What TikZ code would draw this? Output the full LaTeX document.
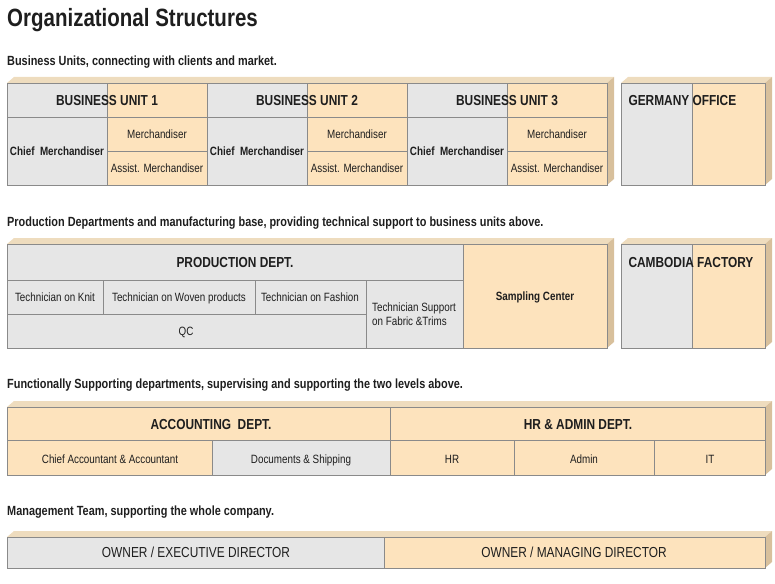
\documentclass[tikz,border=0pt]{standalone}
\usepackage{fontspec}
\setmainfont{Liberation Sans}[FakeStretch=0.82]
\usetikzlibrary{calc}
\definecolor{cellgray}{HTML}{E6E6E6}
\definecolor{cellpeach}{HTML}{FDE3BD}
\definecolor{cellline}{HTML}{8A8A8A}
\definecolor{sidetan}{HTML}{D8C09C}
\definecolor{toptan}{HTML}{EEDCBE}
\definecolor{inktext}{HTML}{1E1E1E}
\def\drawgray{\filldraw[fill=cellgray, draw=cellline, line width=0.8pt]}
\def\drawpeach{\filldraw[fill=cellpeach, draw=cellline, line width=0.8pt]}
% top and right face of a block: x1,y1,x2,y2
\newcommand{\slab}[4]{%
  \fill[toptan] (#1,#2) -- ({#1+7},{#2-6}) -- ({#3+7},{#2-6}) -- (#3,#2) -- cycle;
  \fill[sidetan] (#3,#2) -- ({#3+7},{#2-6}) -- ({#3+7},{#4-6}) -- (#3,#4) -- cycle;}
\tikzset{
  head/.style={font=\fontsize{14.5}{16}\selectfont\bfseries, text=inktext, text height=0.72em, text depth=0em, yshift=-1.5pt},
  lab/.style={font=\fontsize{12}{14}\selectfont, text=inktext, text height=0.72em, text depth=0em, yshift=-0.5pt},
  blab/.style={font=\fontsize{12}{14}\selectfont\bfseries, text=inktext, text height=0.72em, text depth=0em, yshift=-0.5pt},
  caption/.style={font=\fontsize{13.3}{15}\selectfont\bfseries, text=inktext, anchor=west, inner sep=0pt, yshift=-2pt},
}
\begin{document}
\begin{tikzpicture}[x=1pt,y=-1pt]
\useasboundingbox (0,0) rectangle (775,583);
\node[caption, font=\fontsize{25}{28}\selectfont\bfseries] (title) at (7,18) {Organizational Structures};

% business units
\node[caption] (capbu) at (7,60) {Business Units, connecting with clients and market.};
\slab{7}{83}{607}{185}
\drawgray (7,83) rectangle (107,117);
\drawpeach (107,83) rectangle (207,117);
\drawgray (207,83) rectangle (307,117);
\drawpeach (307,83) rectangle (407,117);
\drawgray (407,83) rectangle (507,117);
\drawpeach (507,83) rectangle (607,117);
\drawgray (7,117) rectangle (107,185);
\drawpeach (107,117) rectangle (207,151);
\drawpeach (107,151) rectangle (207,185);
\drawgray (207,117) rectangle (307,185);
\drawpeach (307,117) rectangle (407,151);
\drawpeach (307,151) rectangle (407,185);
\drawgray (407,117) rectangle (507,185);
\drawpeach (507,117) rectangle (607,151);
\drawpeach (507,151) rectangle (607,185);
\node[head] (buA) at (107,100) {BUSINESS UNIT 1};
\node[head] (buB) at (307,100) {BUSINESS UNIT 2};
\node[head] (buC) at (507,100) {BUSINESS UNIT 3};
\node[blab] (chiefA) at (57,151) {Chief\ \ Merchandiser};
\node[blab] (chiefB) at (257,151) {Chief\ \ Merchandiser};
\node[blab] (chiefC) at (457,151) {Chief\ \ Merchandiser};
\node[lab] (merA) at (157,134) {Merchandiser};
\node[lab] (merB) at (357,134) {Merchandiser};
\node[lab] (merC) at (557,134) {Merchandiser};
\node[lab] (assA) at (157,168) {Assist. Merchandiser};
\node[lab] (assB) at (357,168) {Assist. Merchandiser};
\node[lab] (assC) at (557,168) {Assist. Merchandiser};

\slab{621}{83}{765}{185}
\drawgray (621,83) rectangle (692,185);
\drawpeach (692,83) rectangle (765,185);
\node[head, anchor=west] (germany) at (625,100) {GERMANY OFFICE};

% production
\node[caption] (capprod) at (7,221) {Production Departments and manufacturing base, providing technical support to business units above.};
\slab{7}{244}{607}{348}
\drawgray (7,244) rectangle (463,280);
\drawgray (7,280) rectangle (103,314);
\drawgray (103,280) rectangle (255,314);
\drawgray (255,280) rectangle (366,314);
\drawgray (366,280) rectangle (463,348);
\drawgray (7,314) rectangle (366,348);
\drawpeach (463,244) rectangle (607,348);
\node[head] (prod) at (235,262) {PRODUCTION DEPT.};
\node[lab] (knit) at (55,297) {Technician on Knit};
\node[lab] (woven) at (179,297) {Technician on Woven products};
\node[lab] (fashion) at (310,297) {Technician on Fashion};
\node[lab, align=left, text height=, text depth=] (support) at (414,314) {Technician Support\\on Fabric \&Trims};
\node[lab] (qc) at (186,331) {QC};
\node[blab] (sampling) at (535,296) {Sampling Center};

\slab{621}{244}{765}{348}
\drawgray (621,244) rectangle (692,348);
\drawpeach (692,244) rectangle (765,348);
\node[head, anchor=west] (cambodia) at (625,262) {CAMBODIA FACTORY};

% supporting departments
\node[caption] (capsup) at (7,383) {Functionally Supporting departments, supervising and supporting the two levels above.};
\slab{7}{407}{765}{475}
\drawpeach (7,407) rectangle (390,440);
\drawpeach (7,440) rectangle (212,475);
\drawgray (212,440) rectangle (390,475);
\drawpeach (390,407) rectangle (765,440);
\drawpeach (390,440) rectangle (514,475);
\drawpeach (514,440) rectangle (654,475);
\drawpeach (654,440) rectangle (765,475);
\node[head] (acc) at (211,424) {ACCOUNTING\ \ DEPT.};
\node[lab] (chiefacc) at (110,459) {Chief Accountant \& Accountant};
\node[lab] (docs) at (301,459) {Documents \& Shipping};
\node[head] (hradmin) at (578,424) {HR \& ADMIN DEPT.};
\node[lab] (hr) at (452,459) {HR};
\node[lab] (admin) at (584,459) {Admin};
\node[lab] (it) at (710,459) {IT};

% management
\node[caption] (capman) at (7,510) {Management Team, supporting the whole company.};
\slab{7}{537}{765}{568}
\drawgray (7,537) rectangle (384,568);
\drawpeach (384,537) rectangle (765,568);
\node[head, font=\fontsize{14.5}{16}\selectfont] (exec) at (196,552) {OWNER / EXECUTIVE DIRECTOR};
\node[head, font=\fontsize{14.5}{16}\selectfont] (managing) at (574,552) {OWNER / MANAGING DIRECTOR};
\end{tikzpicture}
\end{document}
